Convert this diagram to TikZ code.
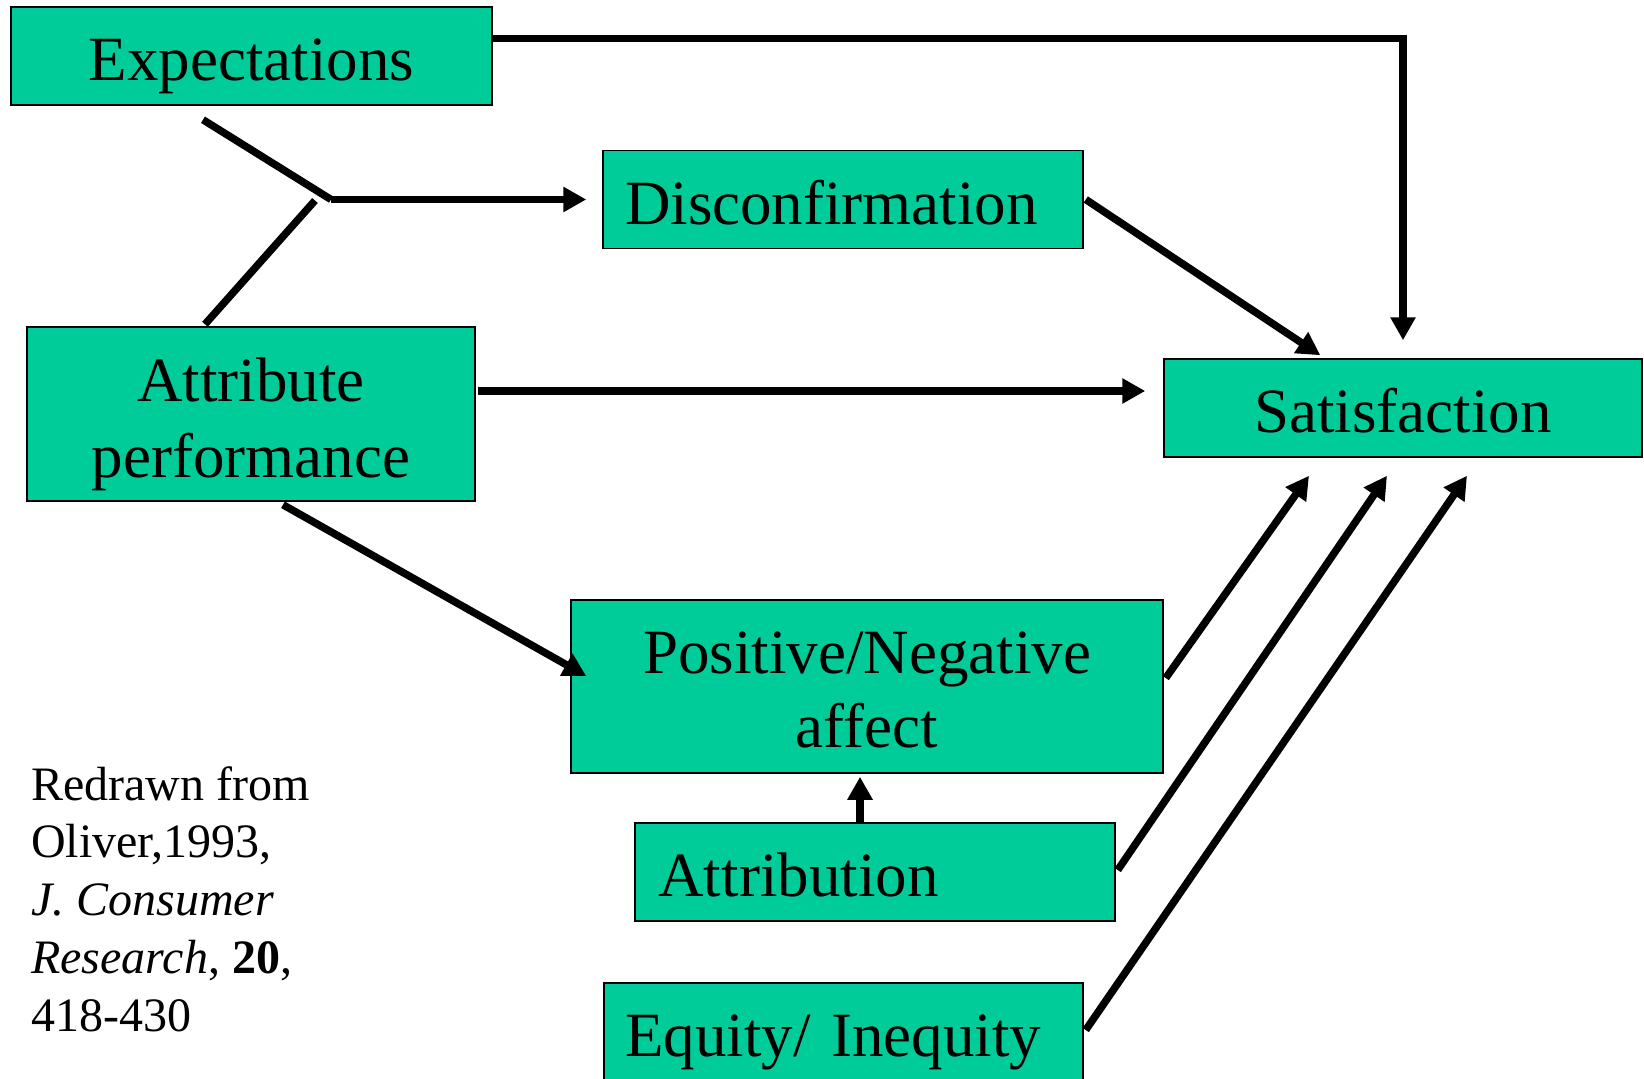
\documentclass[tikz,border=0pt]{standalone}
\usepackage{fontspec}
\setmainfont{Liberation Serif}
\usetikzlibrary{arrows.meta,calc}
\definecolor{boxgreen}{HTML}{00CC99}
\begin{document}
\begin{tikzpicture}[x=1pt,y=-1pt,
  box/.style={draw=black, line width=1.5pt, fill=boxgreen, inner sep=0pt, font=\fontsize{63}{76}\selectfont},
  oneline/.style={text height=49pt, text depth=0pt, minimum height=98pt},
  conn/.style={line width=7.5pt, -{Triangle[length=23pt,width=24pt]}},
  plainline/.style={line width=7.5pt}]
\useasboundingbox (0,0) rectangle (1644,1079);
\node[box, oneline, minimum width=481pt] (exp) at (251.5,56) {Expectations};
\node[box, oneline, minimum width=480pt, text width=436pt, align=left] (dis) at (843,199.5) {Disconfirmation};
\node[box, minimum width=448pt, minimum height=174pt, align=center] (att) at (251,414) {\rule{0pt}{64pt}Attribute\\performance\rule[-14pt]{0pt}{14pt}};
\node[box, oneline, minimum width=478pt] (sat) at (1403,408) {Satisfaction};
\node[box, minimum width=592pt, minimum height=173pt, align=center, font=\fontsize{63}{74.6}\selectfont] (pna) at (867,686.5) {\rule{0pt}{62pt}Positive/Negative\\affect\rule[-14pt]{0pt}{14pt}};
\node[box, oneline, minimum width=480pt, text width=433pt, align=left] (atr) at (875,872) {Attribution};
\node[box, oneline, minimum width=479pt, text width=437pt, align=left] (equ) at (843.5,1032) {Equity/ Inequity};
\node[anchor=north west, inner sep=0pt, align=left, font=\fontsize{48}{57.7}\selectfont] (cite) at (31,766) {\rule{0pt}{34pt}Redrawn from\\Oliver,1993,\\\textit{J. Consumer}\\\textit{Research}, \textbf{20},\\418-430};
% connectors
\draw[conn] ($(exp.north east)+(0,32)$) -| ($(sat.north)+(0,-18)$);
\coordinate (j) at (331,199.5);
\draw[plainline] ($(exp.south)+(-48.5,14)$) -- (j);
\draw[plainline] ($(att.north)+(-46,-2)$) -- ($(j)+(-16,1)$);
\draw[conn] (j) -- ($(dis.west)+(-16,0)$);
\draw[conn] ($(dis.east)+(2,0)$) -- ($(sat.north west)+(157,-3)$);
\draw[conn] ($(att.east)+(2,-23)$) -- ($(sat.west)+(-18,-17)$);
\draw[conn] ($(att.south)+(32,3)$) -- ($(pna.west)+(16,-10.5)$);
\draw[conn] ($(pna.east)+(2,-8.5)$) -- ($(sat.south)+(-94,18)$);
\draw[conn] ($(atr.east)+(2,-2)$) -- ($(sat.south)+(-16,18)$);
\draw[conn] ($(equ.east)+(2,-2)$) -- ($(sat.south)+(64,18)$);
\draw[conn] ($(atr.north)+(-15,0)$) -- ($(pna.south)+(-7,3)$);
\end{tikzpicture}
\end{document}
